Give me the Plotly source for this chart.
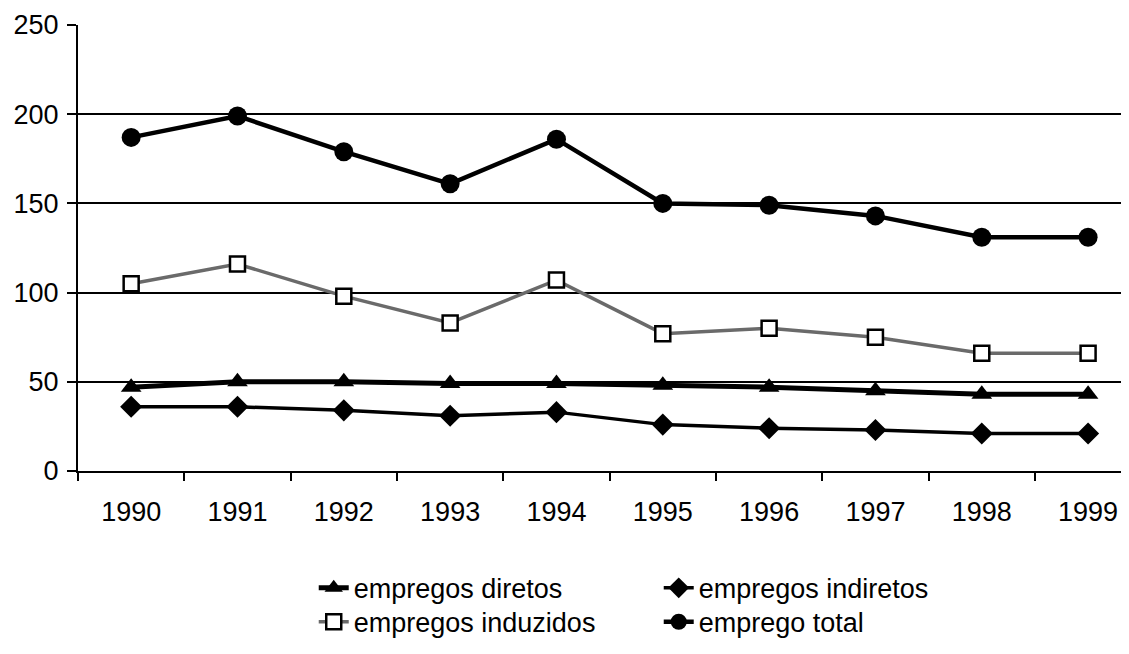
"""
emprego por ano, 1990-1999
"""

import plotly.graph_objects as go

anos = ["1990", "1991", "1992", "1993", "1994", "1995", "1996", "1997", "1998", "1999"]

empregos_diretos = [47, 50, 50, 49, 49, 48, 47, 45, 43, 43]
empregos_indiretos = [36, 36, 34, 31, 33, 26, 24, 23, 21, 21]
empregos_induzidos = [105, 116, 98, 83, 107, 77, 80, 75, 66, 66]
emprego_total = [187, 199, 179, 161, 186, 150, 149, 143, 131, 131]

FONT = "Liberation Sans, Arial, sans-serif"

fig = go.Figure()

fig.add_trace(go.Scatter(
    x=anos, y=empregos_diretos, name="empregos diretos",
    mode="lines+markers", legend="legend",
    line=dict(color="black", width=5),
    marker=dict(symbol="triangle-up", size=18, color="black"),
))
fig.add_trace(go.Scatter(
    x=anos, y=empregos_indiretos, name="empregos indiretos",
    mode="lines+markers", legend="legend",
    line=dict(color="black", width=3.5),
    marker=dict(symbol="diamond", size=17, color="black"),
))
fig.add_trace(go.Scatter(
    x=anos, y=empregos_induzidos, name="empregos induzidos",
    mode="lines+markers", legend="legend2",
    line=dict(color="#6a6a6a", width=3.5),
    marker=dict(symbol="square", size=15, color="white",
                line=dict(color="black", width=2.5)),
))
fig.add_trace(go.Scatter(
    x=anos, y=emprego_total, name="emprego total",
    mode="lines+markers", legend="legend2",
    line=dict(color="black", width=4.5),
    marker=dict(symbol="circle", size=19, color="black"),
))

legenda = dict(
    orientation="h",
    x=0.2226, xanchor="left",
    yanchor="middle",
    entrywidth=300,
    font=dict(family=FONT, size=27, color="black"),
    bgcolor="rgba(0,0,0,0)",
)

# the page body adds an 8px offset, so margins are trimmed by that much
fig.update_layout(
    width=1129,
    height=654,
    margin=dict(l=70, r=0, t=17, b=191),
    paper_bgcolor="white",
    plot_bgcolor="white",
    font=dict(family=FONT, size=27, color="black"),
    showlegend=True,
    legend=dict(legenda, y=-0.263),
    legend2=dict(legenda, y=-0.339),
    xaxis=dict(
        type="category",
        range=[-0.5, 9.46],
        automargin=False,
        showgrid=False,
        showline=True, linecolor="black", linewidth=2,
        ticks="outside", ticklen=8, tickwidth=2, tickcolor="black",
        tickson="boundaries",
        ticklabelstandoff=16,
        tickfont=dict(family=FONT, size=27),
    ),
    yaxis=dict(
        range=[0, 250],
        dtick=50,
        automargin=False,
        showgrid=True, gridcolor="black", gridwidth=2,
        zeroline=True, zerolinecolor="black", zerolinewidth=2,
        showline=True, linecolor="black", linewidth=2,
        ticks="outside", ticklen=9, tickwidth=2, tickcolor="black",
        ticklabelstandoff=3,
        tickfont=dict(family=FONT, size=27),
    ),
)

fig.write_html("out.html")
